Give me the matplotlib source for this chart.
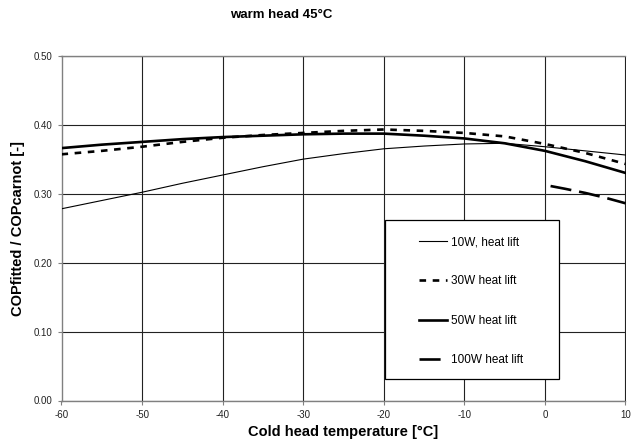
import matplotlib
matplotlib.use("Agg")
import matplotlib.pyplot as plt
from matplotlib.patches import Rectangle

plt.rcParams['font.family'] = ['Liberation Sans', 'DejaVu Sans']

temps = [-60, -55, -50, -45, -40, -35, -30, -25, -20, -15, -10, -5, 0, 5, 10]
cop_10w = [0.278, 0.290, 0.302, 0.315, 0.327, 0.339, 0.350, 0.358, 0.365, 0.369, 0.372, 0.373, 0.368, 0.362, 0.356]
cop_30w = [0.357, 0.362, 0.368, 0.375, 0.381, 0.385, 0.388, 0.391, 0.393, 0.391, 0.388, 0.383, 0.372, 0.359, 0.343]
cop_50w = [0.366, 0.371, 0.375, 0.379, 0.382, 0.384, 0.386, 0.387, 0.387, 0.384, 0.380, 0.373, 0.362, 0.347, 0.330]
temps_100w = [0.7, 2.5, 5, 7.5, 10]
cop_100w = [0.311, 0.307, 0.301, 0.294, 0.286]

labels = ["10W, heat lift", "30W heat lift", "50W heat lift", "100W heat lift"]
x_ticks = [-60, -50, -40, -30, -20, -10, 0, 10]
y_ticks = [0.0, 0.1, 0.2, 0.3, 0.4, 0.5]

W, H = 631, 444
fig = plt.figure(figsize=(W / 100, H / 100), dpi=100)
ax = fig.add_axes([61.5 / W, 1 - 400.5 / H, (625.5 - 61.5) / W, (400.5 - 55.7) / H])

l1, = ax.plot(temps, cop_10w, color='black', lw=0.8, label=labels[0], zorder=3)
l2, = ax.plot(temps, cop_30w, color='black', lw=1.9, dashes=(2.5, 2.5), label=labels[1], zorder=3)
l3, = ax.plot(temps, cop_50w, color='black', lw=1.9, label=labels[2], zorder=3)
l4, = ax.plot(temps_100w, cop_100w, color='black', lw=1.9, dashes=(8, 3), label=labels[3], zorder=3)

ax.set_xlim(-60, 10)
ax.set_ylim(0, 0.5)
ax.set_xticks(x_ticks)
ax.set_yticks(y_ticks)
ax.set_xticklabels([f"{v}" for v in x_ticks])
ax.set_yticklabels([f"{v:.2f}" for v in y_ticks])
ax.tick_params(axis='both', labelsize=7, length=3, width=0.8, color='#808080', direction='out', labelcolor='#222222')
ax.grid(True, color='#222222', lw=0.8)
ax.set_axisbelow(True)
for side, sp in ax.spines.items():
    sp.set_color('#808080')
    sp.set_linewidth(1.0)
ax.spines['right'].set_visible(False)

fig.text(281 / W, 1 - 15 / H, "warm head 45°C", ha='center', va='center', fontsize=9.5, fontweight='bold')
fig.text(343 / W, 1 - 432 / H, "Cold head temperature [°C]", ha='center', va='center', fontsize=10.5, fontweight='bold')
fig.text(18 / W, 1 - 228 / H, "COPfitted / COPcarnot [-]", ha='center', va='center', rotation=90, fontsize=10.5, fontweight='bold')

# legend frame
rect = Rectangle((385 / W, 1 - 379 / H), (559 - 385) / W, (379 - 220) / H, transform=fig.transFigure,
                 facecolor='white', edgecolor='black', lw=0.9, zorder=4)
fig.patches.append(rect)
leg = fig.legend(handles=[l1, l2, l3, l4], labels=labels, loc='upper left',
                 bbox_to_anchor=(419 / W, 1 - 236 / H), frameon=False, fontsize=8.5,
                 handlelength=2.4, handletextpad=0.35, labelspacing=2.32, borderpad=0, borderaxespad=0)
leg.set_zorder(5)

fig.savefig("out.png", dpi=100)
